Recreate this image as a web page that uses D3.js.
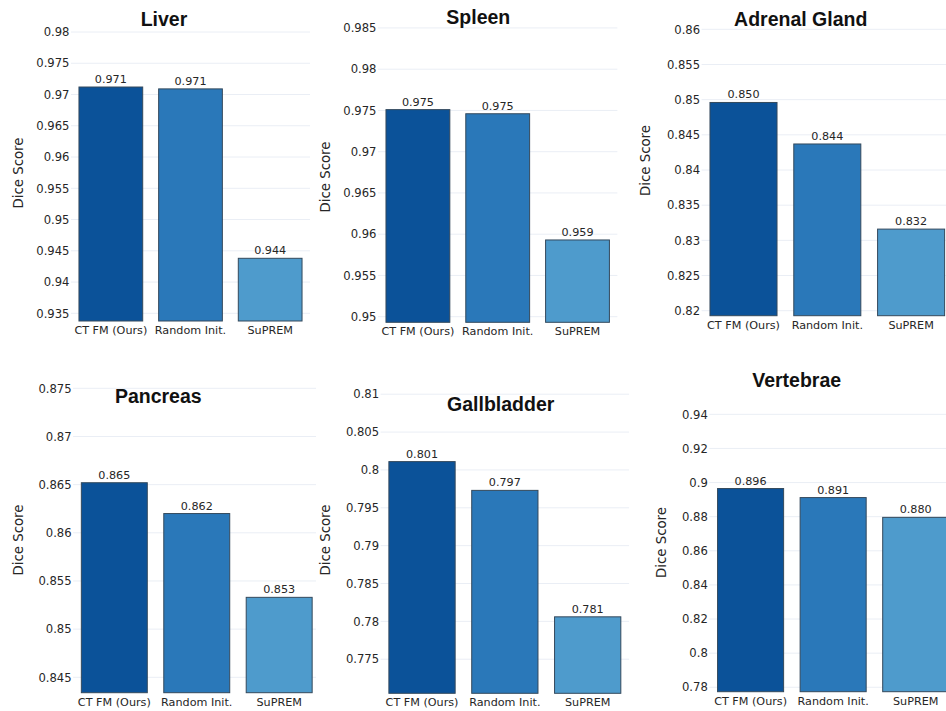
<!DOCTYPE html>
<html>
<head>
<meta charset="utf-8">
<script src="https://cdn.jsdelivr.net/npm/d3@7/dist/d3.min.js"></script>
<style>
  html, body { margin: 0; padding: 0; background: #ffffff; }
  svg { display: block; }
</style>
</head>
<body>
<svg id="chart" width="946" height="711"></svg>
<script>
// ---------------- data ----------------
const categories = ["CT FM (Ours)", "Random Init.", "SuPREM"];
const organs = ["Liver", "Spleen", "Adrenal Gland", "Pancreas", "Gallbladder", "Vertebrae"];

const liverValues       = [0.9712, 0.9709, 0.9438];
const spleenValues      = [0.9751, 0.9746, 0.9593];
const adrenalValues     = [0.8496, 0.8437, 0.8316];
const pancreasValues    = [0.8652, 0.8620, 0.8533];
const gallbladderValues = [0.8011, 0.7973, 0.7806];
const vertebraeValues   = [0.8965, 0.8912, 0.8796];

const liverTicks       = [0.935, 0.94, 0.945, 0.95, 0.955, 0.96, 0.965, 0.97, 0.975, 0.98];
const spleenTicks      = [0.95, 0.955, 0.96, 0.965, 0.97, 0.975, 0.98, 0.985];
const adrenalTicks     = [0.82, 0.825, 0.83, 0.835, 0.84, 0.845, 0.85, 0.855, 0.86];
const pancreasTicks    = [0.845, 0.85, 0.855, 0.86, 0.865, 0.87, 0.875];
const gallbladderTicks = [0.775, 0.78, 0.785, 0.79, 0.795, 0.8, 0.805, 0.81];
const vertebraeTicks   = [0.78, 0.8, 0.82, 0.84, 0.86, 0.88, 0.9, 0.92, 0.94];

const yDomains = [
  [0.93377, 0.9812],
  [0.94932, 0.9852],
  [0.81929, 0.8602],
  [0.8434, 0.8752],
  [0.7705, 0.8102],
  [0.7774, 0.945]
];

const allValues = [liverValues, spleenValues, adrenalValues, pancreasValues, gallbladderValues, vertebraeValues];
const allTicks  = [liverTicks, spleenTicks, adrenalTicks, pancreasTicks, gallbladderTicks, vertebraeTicks];

// ---------------- layout ----------------
const layouts = [
  { x0: 71,    x1: 310,   top: 24.5,  bottom: 321,   clip: [0, 0, 311, 350],     title: [164, 25.7],    ylab: [18.3, 173] },
  { x0: 378,   x1: 617.4, top: 26.3,  bottom: 322.3, clip: [311, 0, 311, 350],   title: [478.3, 24],    ylab: [325, 177] },
  { x0: 701.6, x1: 953,   top: 27.9,  bottom: 315.7, clip: [622, 0, 324, 350],   title: [800.7, 26],    ylab: [645.7, 160.5] },
  { x0: 73.1,  x1: 320.4, top: 386.4, bottom: 692.7, clip: [0, 350, 316, 361],   title: [158.3, 403.3], ylab: [18.3, 540] },
  { x0: 380.6, x1: 629.1, top: 392.7, bottom: 693.3, clip: [316, 350, 318, 361], title: [500.7, 410.7], ylab: [325, 540] },
  { x0: 709.3, x1: 957,   top: 405.8, bottom: 691.7, clip: [634, 350, 312, 361], title: [796.7, 387.3], ylab: [661.7, 542.5] }
];

const barColors = ["#0b5299", "#2a78b9", "#4e9bcc"];
const tickFont = "'DejaVu Sans', Verdana, sans-serif";
const textColor = "#262626";

const svg = d3.select("#chart");
const defs = svg.append("defs");

organs.forEach((organ, i) => {
  const L = layouts[i];
  const values = allValues[i];
  const ticks = allTicks[i];

  defs.append("clipPath").attr("id", "clip" + i)
    .append("rect")
    .attr("x", L.clip[0]).attr("y", L.clip[1])
    .attr("width", L.clip[2]).attr("height", L.clip[3]);

  const g = svg.append("g").attr("clip-path", `url(#clip${i})`);

  const x = d3.scaleBand().domain(categories).range([L.x0, L.x1])
    .paddingInner(0.2).paddingOuter(0.1);
  const y = d3.scaleLinear().domain(yDomains[i]).range([L.bottom, L.top]);

  // gridlines
  g.append("g").selectAll("line").data(ticks).join("line")
    .attr("x1", L.x0).attr("x2", L.x1)
    .attr("y1", d => y(d)).attr("y2", d => y(d))
    .attr("stroke", "#eaeef5").attr("stroke-width", 1);

  // y axis
  const yAxis = g.append("g")
    .attr("transform", `translate(${L.x0},0)`)
    .call(d3.axisLeft(y).tickValues(ticks).tickSize(0).tickPadding(1.5).tickFormat(d => String(d)));
  yAxis.select(".domain").remove();
  yAxis.selectAll("text")
    .attr("font-family", tickFont).attr("font-size", "11.6px").attr("fill", textColor);

  // bars
  const data = categories.map((c, k) => ({ c, v: values[k], k }));
  g.append("g").selectAll("rect").data(data).join("rect")
    .attr("x", d => x(d.c))
    .attr("width", x.bandwidth())
    .attr("y", d => y(d.v))
    .attr("height", d => L.bottom - y(d.v))
    .attr("fill", d => barColors[d.k])
    .attr("stroke", "#34495c").attr("stroke-width", 1);

  // value labels
  g.append("g").selectAll("text").data(data).join("text")
    .attr("x", d => x(d.c) + x.bandwidth() / 2)
    .attr("y", d => y(d.v) - 4)
    .attr("text-anchor", "middle")
    .attr("font-family", tickFont).attr("font-size", "11.2px").attr("fill", textColor)
    .text(d => d3.format(".3f")(d.v));

  // x axis
  const xAxis = g.append("g")
    .attr("transform", `translate(0,${L.bottom})`)
    .call(d3.axisBottom(x).tickSize(0).tickPadding(5));
  xAxis.select(".domain").remove();
  xAxis.selectAll("text")
    .attr("font-family", tickFont).attr("font-size", "11.2px").attr("fill", textColor);

  // y axis title
  g.append("text")
    .attr("transform", `translate(${L.ylab[0]},${L.ylab[1]}) rotate(-90)`)
    .attr("text-anchor", "middle").attr("dominant-baseline", "central")
    .attr("font-family", tickFont).attr("font-size", "13.3px").attr("fill", textColor)
    .text("Dice Score");

  // panel title
  g.append("text")
    .attr("x", L.title[0]).attr("y", L.title[1])
    .attr("text-anchor", "middle")
    .attr("font-family", "'Liberation Sans', Arial, sans-serif")
    .attr("font-weight", "bold").attr("font-size", "19.5px").attr("fill", "#111")
    .text(organ);
});
</script>
</body>
</html>
